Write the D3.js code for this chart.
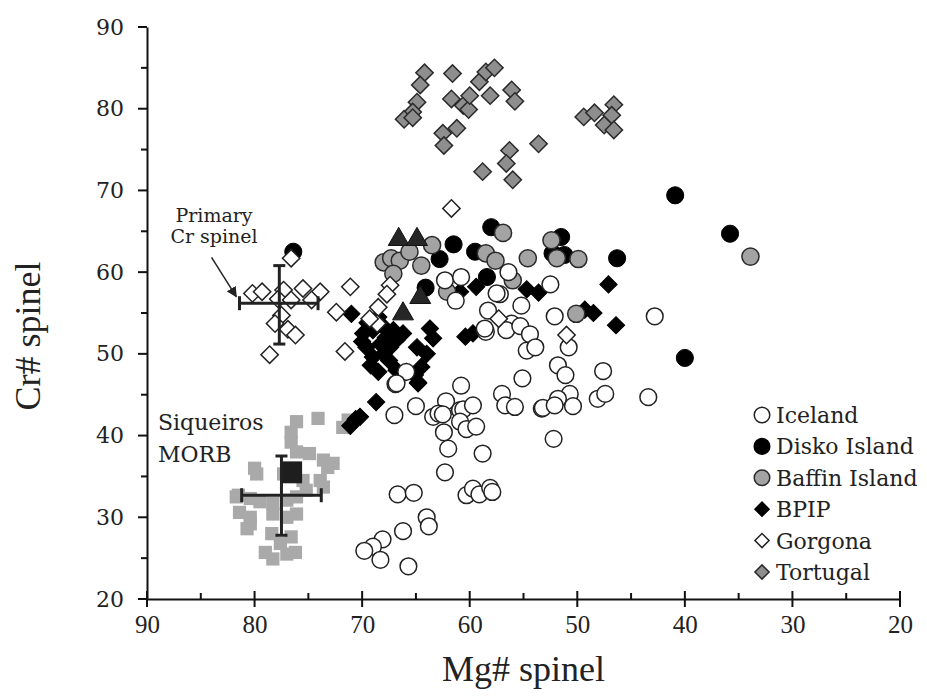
<!DOCTYPE html>
<html>
<head>
<meta charset="utf-8">
<script src="https://cdn.jsdelivr.net/npm/d3@7"></script>
<style>
  body { margin: 0; background: #fff; }
  svg { display: block; }
</style>
</head>
<body>
<div id="chart"></div>
<script>
var svgWidth = 927;
var svgHeight = 698;

var margin = { top: 27, right: 27, bottom: 99, left: 147 };
var width = svgWidth - margin.left - margin.right;
var height = svgHeight - margin.top - margin.bottom;

// data: [Mg# spinel, Cr# spinel]
var iceland = [
  [66.9,46.3],[60.8,46.1],[55.1,47.0],[57.0,45.1],[56.7,43.7],[55.8,43.5],[53.3,43.3],[52.2,39.6],
  [65.0,43.6],[67.0,42.5],[62.2,44.2],[63.4,42.3],[62.9,42.7],[62.5,42.6],[60.9,43.1],[60.6,43.2],
  [59.7,43.7],[60.9,41.7],[60.3,40.8],[59.4,41.1],[62.4,40.4],[62.0,38.4],[58.8,37.8],[62.3,35.5],
  [66.7,32.8],[65.2,33.0],[60.3,32.7],[59.7,33.5],[59.1,32.8],[58.1,33.6],[57.9,33.1],[64.0,30.0],
  [63.8,28.9],[66.2,28.3],[68.1,27.3],[69.0,26.4],[69.8,25.9],[68.3,24.8],[65.7,24.0],[65.9,47.8],
  [66.8,46.4],[51.8,48.6],[51.1,47.4],[47.6,47.9],[50.7,45.1],[51.8,44.5],[53.2,43.4],[52.1,43.7],
  [50.4,43.6],[48.1,44.5],[47.4,45.1],[43.4,44.7],[52.1,54.6],[42.8,54.6],[50.8,50.8],[52.5,58.5],
  [56.4,60.0],[57.2,57.3],[58.3,55.3],[55.2,55.9],[56.1,53.7],[58.5,52.7],[56.6,52.9],[55.3,53.4],
  [54.4,52.4],[54.7,50.4],[53.9,50.8],[62.3,59.0],[60.8,59.4],[61.3,56.5],[58.6,53.1],[57.5,57.4]
];
var disko = [
  [64.1,58.1],[61.5,63.4],[62.8,61.6],[59.5,62.5],[58.0,65.5],[51.5,64.3],[52.3,62.3],[51.2,62.1],
  [46.3,61.7],[40.9,69.4],[35.8,64.7],[40.0,49.5],[76.4,62.5],[58.4,59.4]
];
var baffin = [
  [68.0,61.2],[67.3,61.7],[66.5,61.4],[65.6,62.5],[64.5,60.8],[67.1,59.8],[63.5,63.3],[62.1,57.6],
  [58.5,62.3],[57.6,61.4],[56.9,64.8],[52.4,63.9],[51.9,61.7],[49.9,61.6],[54.6,61.7],[56.0,59.0],
  [50.1,54.9],[33.9,61.9]
];
var bpip = [
  [69.9,52.5],[69.0,52.9],[68.0,53.3],[67.1,52.9],[66.2,52.5],[69.6,50.8],[68.3,51.2],[67.4,50.8],
  [69.0,49.6],[68.0,50.0],[66.8,51.7],[68.5,47.8],[66.8,48.0],[64.9,50.8],[63.7,53.1],[63.4,51.9],
  [64.0,50.0],[64.5,48.4],[64.8,46.5],[65.9,47.8],[69.5,53.8],[68.5,54.5],[70.0,51.5],[67.8,52.0],
  [69.2,48.6],[67.5,49.2],[71.0,54.9],[68.7,44.1],[70.2,42.3],[70.6,42.0],[71.1,41.2],[64.8,46.4],
  [65.1,47.4],[47.1,58.5],[49.3,55.4],[48.5,55.0],[46.4,53.5],[54.7,57.9],[53.6,57.5],[60.9,57.6],
  [59.4,58.2],[60.4,52.1],[59.7,52.5]
];
var gorgona = [
  [61.7,67.8],[67.4,58.4],[67.7,57.3],[68.5,55.7],[68.6,53.7],[69.3,54.3],[71.1,58.2],[72.4,55.1],
  [71.6,50.3],[76.6,61.7],[80.2,57.4],[79.3,57.6],[77.3,57.8],[75.5,58.0],[73.9,57.6],[77.8,56.7],
  [76.6,56.6],[74.7,56.6],[77.5,54.7],[78.1,53.7],[76.9,53.0],[76.2,52.3],[78.6,49.9],[57.3,54.3],
  [51.0,52.3]
];
var tortugal = [
  [64.2,84.4],[64.6,82.9],[64.9,80.8],[65.3,79.6],[66.1,78.7],[65.3,78.9],[61.6,84.3],[61.7,81.2],
  [60.6,80.4],[60.1,79.9],[60.0,81.6],[59.1,83.3],[58.5,84.5],[57.7,85.0],[58.1,81.6],[56.1,82.3],
  [55.8,80.9],[62.5,77.0],[61.2,77.6],[62.4,75.5],[56.3,74.9],[56.6,73.3],[58.8,72.3],[56.0,71.3],
  [53.6,75.7],[49.4,79.0],[48.4,79.5],[46.6,80.5],[46.8,79.2],[47.5,78.0],[46.6,77.4]
];
var triangles = [[66.6,64.0],[64.9,64.0],[64.6,56.9],[66.2,54.9]];
var siqueiros = [
  [74.1,42.1],[76.1,41.7],[71.8,41.0],[71.3,41.9],[76.6,40.4],[76.6,39.2],[76.1,38.0],[74.9,37.8],
  [73.6,37.0],[73.2,36.1],[72.7,36.6],[79.8,35.3],[80.0,36.0],[77.3,35.3],[75.5,34.5],[73.9,34.5],
  [73.6,33.7],[81.5,32.7],[80.4,32.3],[79.5,31.9],[78.3,31.7],[77.0,32.1],[76.1,32.5],[75.2,33.3],
  [81.7,32.5],[81.4,30.6],[80.4,30.0],[80.4,29.2],[80.7,28.6],[78.3,30.4],[77.0,30.0],[76.1,30.4],
  [78.4,28.0],[76.6,27.6],[77.6,26.8],[79.0,25.7],[78.3,24.9],[77.0,25.5],[76.2,25.7]
];
var siqueirosMean = [76.6, 35.5];

// error crosses: center, x extent, y extent
var primaryBar = { c: [77.7, 56.2], x: [81.4, 74.1], y: [51.2, 60.8] };
var morbBar = { c: [77.5, 32.7], x: [81.2, 73.8], y: [27.8, 37.5] };
var arrowPts = [[84.0, 61.8], [81.7, 57.0]];

var xMajor = [90, 80, 70, 60, 50, 40, 30, 20];
var xMinor = [85, 75, 65, 55, 45, 35, 25];
var yMajor = [20, 30, 40, 50, 60, 70, 80, 90];
var yMinor = [25, 35, 45, 55, 65, 75, 85];

var legendNames = ["Iceland", "Disko Island", "Baffin Island", "BPIP", "Gorgona", "Tortugal"];

var svg = d3.select("#chart")
  .append("svg")
  .attr("width", svgWidth)
  .attr("height", svgHeight);

var chartGroup = svg.append("g")
  .attr("transform", `translate(${margin.left}, ${margin.top})`);

var xScale = d3.scaleLinear().domain([90, 20]).range([0, width]);
var yScale = d3.scaleLinear().domain([20, 90]).range([height, 0]);

var serif = "'DejaVu Serif', serif";
var times = "'Liberation Serif', serif";

// axes
var bottomAxis = d3.axisBottom(xScale).tickValues(xMajor).tickSize(0).tickPadding(16).tickFormat(d3.format("d"));
var leftAxis = d3.axisLeft(yScale).tickValues(yMajor).tickSize(0).tickPadding(23).tickFormat(d3.format("d"));

var xAxisG = chartGroup.append("g")
  .attr("transform", `translate(0, ${height})`)
  .call(bottomAxis);
var yAxisG = chartGroup.append("g").call(leftAxis);

[xAxisG, yAxisG].forEach(function(g) {
  g.select(".domain").attr("stroke", "#111").attr("stroke-width", 2);
});
xAxisG.selectAll("text").attr("font-family", times).attr("font-size", 25).attr("fill", "#222");
yAxisG.selectAll("text").attr("font-family", serif).attr("font-size", 22).attr("fill", "#222");

// tick marks
xAxisG.selectAll(".maj").data(xMajor).enter().append("line")
  .attr("x1", d => xScale(d)).attr("x2", d => xScale(d))
  .attr("y1", -8).attr("y2", 8)
  .attr("stroke", "#111").attr("stroke-width", 2);
xAxisG.selectAll(".min").data(xMinor).enter().append("line")
  .attr("x1", d => xScale(d)).attr("x2", d => xScale(d))
  .attr("y1", -6).attr("y2", 0)
  .attr("stroke", "#111").attr("stroke-width", 2);
yAxisG.selectAll(".maj").data(yMajor).enter().append("line")
  .attr("y1", d => yScale(d)).attr("y2", d => yScale(d))
  .attr("x1", -9).attr("x2", 0)
  .attr("stroke", "#111").attr("stroke-width", 2);
yAxisG.selectAll(".min").data(yMinor).enter().append("line")
  .attr("y1", d => yScale(d)).attr("y2", d => yScale(d))
  .attr("x1", -6).attr("x2", 0)
  .attr("stroke", "#111").attr("stroke-width", 2);

// axis titles
chartGroup.append("text")
  .attr("transform", `translate(${-107}, ${height / 2 + 23}) rotate(-90)`)
  .attr("text-anchor", "middle")
  .attr("font-family", times)
  .attr("font-size", 36)
  .attr("fill", "#222")
  .text("Cr# spinel");

chartGroup.append("text")
  .attr("x", width / 2 + 0)
  .attr("y", height + 82)
  .attr("text-anchor", "middle")
  .attr("font-family", times)
  .attr("font-size", 36)
  .attr("fill", "#222")
  .text("Mg# spinel");

// marker helpers
var diamond = d3.symbol().type(d3.symbolSquare).size(150);
var smallDiamond = d3.symbol().type(d3.symbolSquare).size(110);

function drawPoints(data, pathGen, fill, stroke, sw, rot) {
  return chartGroup.append("g").selectAll("path")
    .data(data)
    .enter()
    .append("path")
    .attr("d", pathGen)
    .attr("transform", d => `translate(${xScale(d[0])}, ${yScale(d[1])}) rotate(${rot || 0})`)
    .attr("fill", fill)
    .attr("stroke", stroke)
    .attr("stroke-width", sw);
}

// Siqueiros MORB squares
drawPoints(siqueiros, d3.symbol().type(d3.symbolSquare).size(175), "#a9a9a9", "none", 0);
chartGroup.append("path")
  .attr("d", d3.symbol().type(d3.symbolSquare).size(480))
  .attr("transform", `translate(${xScale(siqueirosMean[0])}, ${yScale(siqueirosMean[1])})`)
  .attr("fill", "#1e1e1e");

// Tortugal
drawPoints(tortugal, diamond, "#8e8e8e", "#2a2a2a", 1.5, 45);
// BPIP
drawPoints(bpip, diamond, "#000", "#000", 1, 45);
// Disko Island
drawPoints(disko, d3.symbol().type(d3.symbolCircle).size(230), "#000", "#000", 1);
// Baffin Island
drawPoints(baffin, d3.symbol().type(d3.symbolCircle).size(230), "#a3a3a3", "#2a2a2a", 1.5);
// Iceland
drawPoints(iceland, d3.symbol().type(d3.symbolCircle).size(220), "#fff", "#222", 1.5);
// Gorgona
drawPoints(gorgona, diamond, "#fff", "#222", 1.5, 45);
// triangles
drawPoints(triangles, d3.symbol().type(d3.symbolTriangle).size(190), "#262626", "#111", 1);

// error crosses
function errorCross(b) {
  var g = chartGroup.append("g").attr("stroke", "#222").attr("stroke-width", 3).attr("fill", "none");
  var cx = xScale(b.c[0]), cy = yScale(b.c[1]);
  g.append("line").attr("x1", xScale(b.x[0])).attr("x2", xScale(b.x[1])).attr("y1", cy).attr("y2", cy);
  g.append("line").attr("x1", cx).attr("x2", cx).attr("y1", yScale(b.y[0])).attr("y2", yScale(b.y[1]));
  b.x.forEach(function(v) {
    g.append("line").attr("x1", xScale(v)).attr("x2", xScale(v)).attr("y1", cy - 7).attr("y2", cy + 7);
  });
  b.y.forEach(function(v) {
    g.append("line").attr("y1", yScale(v)).attr("y2", yScale(v)).attr("x1", cx - 6).attr("x2", cx + 6);
  });
}
errorCross(primaryBar);
errorCross(morbBar);

// arrow
svg.append("defs").append("marker")
  .attr("id", "arrowhead")
  .attr("viewBox", "0 0 10 10")
  .attr("refX", 9).attr("refY", 5)
  .attr("markerWidth", 7).attr("markerHeight", 7)
  .attr("orient", "auto")
  .append("path").attr("d", "M0,0 L10,5 L0,10 z").attr("fill", "#222");

chartGroup.append("line")
  .attr("x1", xScale(arrowPts[0][0])).attr("y1", yScale(arrowPts[0][1]))
  .attr("x2", xScale(arrowPts[1][0])).attr("y2", yScale(arrowPts[1][1]))
  .attr("stroke", "#222").attr("stroke-width", 1.5)
  .attr("marker-end", "url(#arrowhead)");

// annotations
svg.append("text").attr("x", 214).attr("y", 222).attr("text-anchor", "middle")
  .attr("font-family", serif).attr("font-size", 19).attr("fill", "#222").text("Primary");
svg.append("text").attr("x", 214).attr("y", 243).attr("text-anchor", "middle")
  .attr("font-family", serif).attr("font-size", 19).attr("fill", "#222").text("Cr spinel");
svg.append("text").attr("x", 158).attr("y", 430)
  .attr("font-family", serif).attr("font-size", 22).attr("fill", "#222").text("Siqueiros");
svg.append("text").attr("x", 158).attr("y", 462)
  .attr("font-family", serif).attr("font-size", 22).attr("fill", "#222").text("MORB");

// legend
var legendStyles = [
  { sym: d3.symbolCircle, size: 190, fill: "#fff", stroke: "#222", rot: 0 },
  { sym: d3.symbolCircle, size: 190, fill: "#000", stroke: "#000", rot: 0 },
  { sym: d3.symbolCircle, size: 190, fill: "#a3a3a3", stroke: "#2a2a2a", rot: 0 },
  { sym: d3.symbolSquare, size: 100, fill: "#000", stroke: "#000", rot: 45 },
  { sym: d3.symbolSquare, size: 100, fill: "#fff", stroke: "#222", rot: 45 },
  { sym: d3.symbolSquare, size: 100, fill: "#8e8e8e", stroke: "#2a2a2a", rot: 45 }
];
var legendY = d3.scalePoint().domain(legendNames).range([415, 572]);

var legend = svg.append("g");
var items = legend.selectAll("g").data(legendNames).enter().append("g")
  .attr("transform", d => `translate(762, ${legendY(d)})`);
items.append("path")
  .attr("d", (d, i) => d3.symbol().type(legendStyles[i].sym).size(legendStyles[i].size)())
  .attr("transform", (d, i) => `rotate(${legendStyles[i].rot})`)
  .attr("fill", (d, i) => legendStyles[i].fill)
  .attr("stroke", (d, i) => legendStyles[i].stroke)
  .attr("stroke-width", 1.5);
items.append("text")
  .attr("x", 14).attr("y", 8)
  .attr("font-family", serif).attr("font-size", 22).attr("fill", "#222")
  .text(d => d);
</script>
</body>
</html>
